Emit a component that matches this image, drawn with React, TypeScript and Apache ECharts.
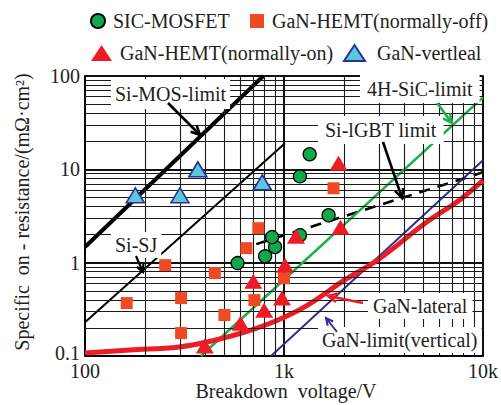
import React, { useEffect, useRef } from "react";
import * as echarts from "echarts";

const SERIF = "'Liberation Serif', 'DejaVu Serif', 'Times New Roman', serif";
const INK = "#231f20";

// ---- tick labels ----
const xTickText: Record<string, string> = { "100": "100", "1000": "1k", "10000": "10k" };

// ---- grid (log decades minor lines) ----
const xMinorGrid = [200, 300, 400, 500, 600, 700, 800, 900, 2000, 3000, 4000, 5000, 6000, 7000, 8000, 9000];
const yMinorGrid = [0.2, 0.3, 0.4, 0.5, 0.6, 0.7, 0.8, 0.9, 2, 3, 4, 5, 6, 7, 8, 9, 20, 30, 40, 50, 60, 70, 80, 90];

// ---- device data: [breakdown voltage V, specific on-resistance mΩ·cm²] ----
const sicMosfet = [[584, 0.99], [804, 1.17], [902, 1.47], [871, 1.88], [1202, 1.97], [1675, 3.22], [1202, 8.4], [1346, 14.5]];
const ganHemtOff = [[162, 0.369], [253, 0.94], [304, 0.417], [304, 0.176], [449, 0.773], [502, 0.275], [647, 1.43], [743, 2.34], [710, 0.397], [1000, 0.68], [1774, 6.27]];
const ganHemtOn = [[400, 0.128], [604, 0.225], [701, 0.634], [795, 0.31], [977, 0.417], [1012, 0.94], [1148, 1.92], [1923, 2.4], [1879, 11.6]];
const ganVertical = [[179, 5.27], [300, 5.27], [369, 10], [778, 7.26]];

// ---- limit lines ----
const siMosLimit = [[100, 1.47], [787, 100]];
const siSjLimit = [[100, 0.23], [1012, 19]];
const siIgbtLimit = [[726, 1.58], [10000, 9.3]];
const sic4hLimit = [[382, 0.1], [10000, 59]];
const ganVerticalLimit = [[861, 0.1], [10000, 12.5]];
const ganLateral = [[100, 0.108], [168, 0.116], [297, 0.125], [433, 0.145], [640, 0.181], [933, 0.243], [1315, 0.351], [2010, 0.65], [2940, 1.06], [5200, 2.71], [7600, 4.66], [10000, 7.6]];

function arrow(x1: number, y1: number, x2: number, y2: number, color: string, width: number, head = 10) {
  const ang = Math.atan2(y2 - y1, x2 - x1);
  const spread = 0.45;
  const a1 = ang + Math.PI - spread;
  const a2 = ang + Math.PI + spread;
  return [
    { type: "line", z: 120, shape: { x1, y1, x2, y2 }, style: { stroke: color, lineWidth: width } },
    {
      type: "polyline",
      z: 120,
      shape: {
        points: [
          [x2 + head * Math.cos(a1), y2 + head * Math.sin(a1)],
          [x2, y2],
          [x2 + head * Math.cos(a2), y2 + head * Math.sin(a2)],
        ],
      },
      style: { stroke: color, lineWidth: width, fill: null, lineJoin: "miter" },
    },
  ];
}

function label(text: string, x: number, y: number, pad: number[] = [3, 5]) {
  return {
    type: "text",
    z: 110,
    x,
    y,
    style: {
      text,
      font: `20px ${SERIF}`,
      fill: INK,
      verticalAlign: "middle",
      align: "left",
      backgroundColor: "#fff",
      padding: pad,
    },
  };
}

export default function App() {
  const ref = useRef<HTMLDivElement>(null);
  useEffect(() => {
    if (!ref.current) return;
    const chart = echarts.init(ref.current, undefined, { renderer: "svg" });
    const gridMarks = [
      ...xMinorGrid.map((v) => ({ xAxis: v })),
      ...yMinorGrid.map((v) => ({ yAxis: v })),
    ];
    const legendBase = {
      orient: "horizontal",
      padding: 0,
      selectedMode: false,
      textStyle: { fontFamily: SERIF, fontSize: 20, color: INK, padding: [0, 0, 0, 3] },
    };
    chart.setOption({
      animation: false,
      backgroundColor: "#fff",
      grid: { left: 85, right: 14, top: 76, bottom: 49, show: true, borderColor: "#000", borderWidth: 1.5, backgroundColor: "transparent" },
      legend: [
        { ...legendBase, data: ["SIC-MOSFET"], left: 90, top: 11, itemWidth: 14, itemHeight: 14 },
        { ...legendBase, data: ["GaN-HEMT(normally-off)"], left: 250, top: 11, itemWidth: 14, itemHeight: 14 },
        { ...legendBase, data: ["GaN-HEMT(normally-on)"], left: 91, top: 43, itemWidth: 21, itemHeight: 16 },
        { ...legendBase, data: ["GaN-vertleal"], left: 343, top: 43, itemWidth: 21, itemHeight: 16, textStyle: { ...legendBase.textStyle, padding: [0, 0, 0, 7] } },
      ],
      xAxis: {
        type: "log",
        logBase: 10,
        min: 100,
        max: 10000,
        axisLine: { show: true, lineStyle: { color: "#000", width: 1.5 } },
        axisTick: { show: false },
        splitLine: { show: true, lineStyle: { color: "#111", width: 2 } },
        axisLabel: {
          fontFamily: SERIF,
          fontSize: 20,
          color: INK,
          margin: 5,
          formatter: (v: number) => xTickText[String(Math.round(v))] ?? "",
        },
      },
      yAxis: {
        type: "log",
        logBase: 10,
        min: 0.1,
        max: 100,
        axisLine: { show: true, lineStyle: { color: "#000", width: 1.5 } },
        axisTick: { show: false },
        splitLine: { show: true, lineStyle: { color: "#111", width: 2 } },
        axisLabel: {
          fontFamily: SERIF,
          fontSize: 20,
          color: INK,
          margin: 5,
          formatter: (v: number) => (v < 1 ? `{lo|${Number(v.toFixed(1))}}` : String(Math.round(v))),
          rich: {
            lo: { fontFamily: SERIF, fontSize: 20, color: INK, padding: [0, 0, 7, 0] },
          },
        },
      },
      series: [
        {
          type: "line",
          name: "grid",
          z: 1,
          silent: true,
          data: [[100, 0.1]],
          symbol: "none",
          lineStyle: { opacity: 0 },
          markLine: {
            silent: true,
            symbol: ["none", "none"],
            label: { show: false },
            emphasis: { disabled: true },
            lineStyle: { color: "#1a1a1a", width: 1.1, type: "solid" },
            data: gridMarks,
          },
        },
        { type: "line", name: "Si-MOS-limit", data: siMosLimit, symbol: "none", z: 3, lineStyle: { color: "#000", width: 4 } },
        { type: "line", name: "Si-SJ", data: siSjLimit, symbol: "none", z: 3, lineStyle: { color: "#000", width: 2 } },
        { type: "line", name: "Si-IGBT limit", data: siIgbtLimit, symbol: "none", z: 3, lineStyle: { color: "#000", width: 2.6, type: [11, 8] } },
        { type: "line", name: "4H-SiC-limit", data: sic4hLimit, symbol: "none", z: 3, lineStyle: { color: "#1fae4b", width: 2.6 } },
        { type: "line", name: "GaN-limit(vertical)", data: ganVerticalLimit, symbol: "none", z: 3, lineStyle: { color: "#2e3192", width: 2 } },
        { type: "line", name: "GaN-lateral", data: ganLateral, symbol: "none", smooth: 0.4, z: 3, lineStyle: { color: "#ee1c25", width: 5 } },
        {
          type: "scatter",
          name: "SIC-MOSFET",
          data: sicMosfet,
          symbol: "circle",
          symbolSize: 13,
          z: 5,
          itemStyle: { color: "#0fa84a", borderColor: "#000", borderWidth: 1.3, opacity: 1 },
        },
        {
          type: "scatter",
          name: "GaN-HEMT(normally-off)",
          data: ganHemtOff,
          symbol: "rect",
          symbolSize: 12,
          z: 5,
          itemStyle: { color: "#f04a24", opacity: 1 },
        },
        {
          type: "scatter",
          name: "GaN-HEMT(normally-on)",
          data: ganHemtOn,
          symbol: "triangle",
          symbolSize: [18, 15],
          z: 6,
          itemStyle: { color: "#ec1c24", opacity: 1 },
        },
        {
          type: "scatter",
          name: "GaN-vertleal",
          data: ganVertical,
          symbol: "triangle",
          symbolSize: [18, 15],
          z: 6,
          itemStyle: { color: "#5cc6df", borderColor: "#2e3192", borderWidth: 1.6, opacity: 1 },
        },
      ],
      graphic: {
        elements: [
          label("Si-MOS-limit", 111, 94, [5, 4]),
          label("4H-SiC-limit", 360, 89, [4, 7]),
          label("Si-lGBT limit", 318, 130, [4, 7]),
          label("Si-SJ", 111, 245, [3, 4]),
          label("GaN-lateral", 368, 306, [3, 5]),
          label("GaN-limit(vertical)", 318, 340, [3, 4]),
          ...arrow(168, 103, 200, 135, "#000", 2.6),
          ...arrow(136, 256, 143, 272, "#000", 2.2, 8),
          ...arrow(383, 142, 402, 198, "#000", 2.6),
          ...arrow(437, 103, 452, 123, "#1fae4b", 2.6),
          ...arrow(363, 303, 328, 296, "#ee1c25", 2.4),
          ...arrow(337, 332, 326, 318, "#2e3192", 2, 8),
          {
            type: "text",
            z: 110,
            x: 286,
            y: 391,
            style: { text: "Breakdown  voltage/V", font: `20px ${SERIF}`, fill: INK, align: "center", verticalAlign: "middle" },
          },
          {
            type: "text",
            z: 110,
            x: 22,
            y: 212,
            rotation: Math.PI / 2,
            style: { text: "Specific  on - resistance/(mΩ·cm²)", font: `20px ${SERIF}`, fill: INK, align: "center", verticalAlign: "middle" },
          },
        ],
      },
    });
    return () => chart.dispose();
  }, []);
  return <div ref={ref} style={{ position: "fixed", left: 0, top: 0, width: 501, height: 405, background: "#fff" }} />;
}
